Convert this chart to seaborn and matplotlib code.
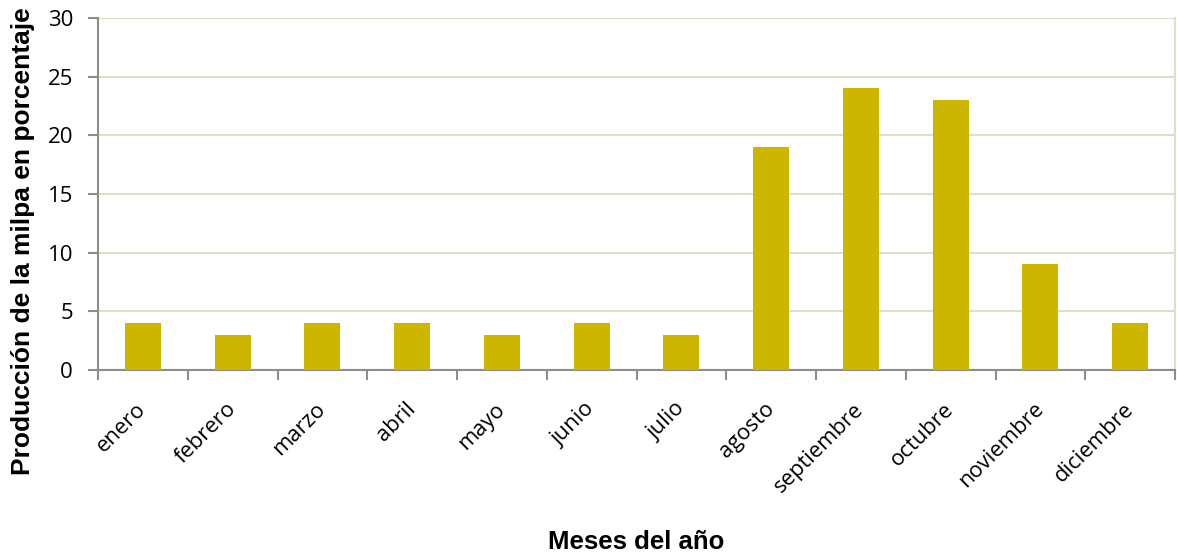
import matplotlib
matplotlib.use("Agg")
import matplotlib.pyplot as plt
import seaborn as sns
import pandas as pd

meses = ["enero", "febrero", "marzo", "abril", "mayo", "junio", "julio",
         "agosto", "septiembre", "octubre", "noviembre", "diciembre"]
produccion = [4, 3, 4, 4, 3, 4, 3, 19, 24, 23, 9, 4]

df = pd.DataFrame({"mes": meses, "valor": produccion})

sns.set_theme(style="white")
plt.rcParams['font.family'] = ['Open Sans', 'DejaVu Sans']
plt.rcParams['text.color'] = 'black'
plt.rcParams['axes.labelcolor'] = 'black'
plt.rcParams['xtick.color'] = 'black'
plt.rcParams['ytick.color'] = 'black'

fig = plt.figure(figsize=(11.77, 5.59), dpi=100)
ax = fig.add_axes([0.0833, 0.338, 0.915, 0.630])

sns.barplot(data=df, x="mes", y="valor", color="#CDB600", width=0.4,
            saturation=1, ax=ax, zorder=3, edgecolor="none")

ax.set_ylim(0, 30)
ax.set_xlim(-0.5, 11.5)
ax.set_yticks([0, 5, 10, 15, 20, 25, 30])
ax.yaxis.grid(True, color="#E2DDC7", linewidth=1.5, zorder=0)
ax.xaxis.grid(False)

for s in ["left", "bottom"]:
    ax.spines[s].set_color("#8C8C8C")
    ax.spines[s].set_linewidth(1.5)
ax.spines["top"].set_visible(False)
ax.spines["right"].set_color("#E2DDC7")
ax.spines["right"].set_linewidth(1.5)

ax.tick_params(axis="y", direction="out", length=7, width=1.5, color="#8C8C8C",
               labelsize=16, left=True, pad=11, labelcolor="black")
ax.set_xticks(range(12))
ax.set_xticklabels(meses)
ax.tick_params(axis="x", which="major", length=0, labelsize=15.8, pad=26,
               labelcolor="black")
for lab in ax.get_xticklabels():
    lab.set_rotation(45)
    lab.set_ha("right")
    lab.set_va("center")
    lab.set_rotation_mode("anchor")
# boundary ticks
ax.set_xticks([i - 0.5 for i in range(13)], minor=True)
ax.tick_params(axis="x", which="minor", direction="out", length=7, width=1.5,
               color="#8C8C8C", bottom=True)

ax.set_xlabel("Meses del año", fontsize=18.5, fontweight="bold",
              family="Liberation Sans", color="black")
ax.xaxis.set_label_coords(0.5, -0.455)
ax.set_ylabel("Producción de la milpa en porcentaje", fontsize=19,
              fontweight="bold", family="Liberation Sans", color="black")
ax.yaxis.set_label_coords(-0.0585, 0.366)

fig.savefig("out.png", dpi=100)
